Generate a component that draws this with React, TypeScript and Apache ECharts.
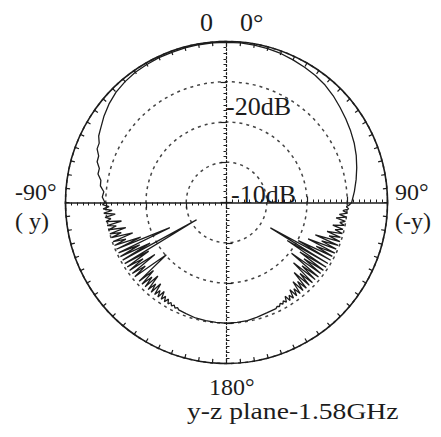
import React, { useEffect, useRef } from "react";
import * as echarts from "echarts";

// Radiation pattern, y-z plane at 1.58 GHz (gain in dB, angle in degrees, 0° at top, clockwise)
const ringValuesDb = [-40, -30, -20, -10, 0];

// Smooth-ish upper half, from -90° (left) over 0° (top) to 90°
const upperAngles = [
  -90, -87.5, -85, -82.5, -80, -77.5, -75, -72.5, -70, -67.5, -65, -62.5, -60,
  -55, -50, -45, -40, -35, -30, -25, -20, -15, -10, -5, 0,
  5, 10, 15, 20, 25, 30, 35, 40, 45, 50, 55, 60, 65, 70, 75, 80, 85, 90,
];
const upperDb = [
  -9.8, -9.1, -9.4, -8.4, -8.3, -7.3, -7.3, -6.3, -6.2, -5.2, -5.1, -4.2, -3.8,
  -2.8, -1.9, -1.2, -0.8, -0.5, -0.4, -0.3, -0.3, -0.2, -0.2, -0.2, -0.2,
  -0.2, -0.3, -0.4, -0.6, -0.9, -1.2, -1.5, -1.9, -2.5, -3.2, -3.8, -4.4, -5.0, -5.7, -6.5, -7.3, -8.1, -8.9,
];

// Lower-left (noisy) part, -180° .. -91°
const lowerLeftSmoothAngles = [-180, -175, -170, -165, -160];
const lowerLeftSmoothDb = [-10.0, -10.1, -10.2, -10.3, -10.6];
const lowerLeftNoisyStart = -156; // 1° steps up to -91
const lowerLeftNoisyDb = [
  -10.8, -11.2, -10.8, -11.4, -10.9, -11.6, -10.9, -12.0, -10.9, -12.2,
  -11.0, -13.0, -11.0, -12.6, -11.0, -14.0, -10.9, -13.2, -10.9, -15.0,
  -10.9, -13.8, -10.8, -15.2, -10.8, -20.2, -16.5, -10.7, -14.4, -10.7,
  -18.0, -10.6, -15.0, -10.6, -17.2, -10.5, -31.4, -10.5, -18.5, -10.4,
  -16.0, -10.4, -24.6, -10.3, -17.0, -10.2, -13.4, -10.2, -15.5, -10.1,
  -12.8, -10.0, -14.2, -9.9, -12.0, -9.8, -13.5, -9.7, -11.0, -9.6,
  -12.2, -9.4, -11.5, -9.3, -10.8, -9.2,
];

// Lower-right (noisy) part, 91° .. 180°
const lowerRightNoisyStart = 91; // 1° steps up to 155
const lowerRightNoisyDb = [
  -9.4, -10.2, -9.6, -11.0, -9.8, -11.8, -10.0, -12.5, -10.1, -11.4,
  -10.2, -13.0, -10.3, -12.2, -10.2, -14.0, -10.4, -13.2, -10.2, -16.5,
  -10.3, -14.5, -10.4, -17.8, -10.3, -15.2, -10.5, -19.8, -10.4, -27.4,
  -10.6, -22.2, -10.5, -18.0, -10.6, -16.2, -10.7, -19.5, -10.6, -15.5,
  -10.8, -17.6, -10.8, -14.6, -10.9, -15.8, -10.9, -13.6, -11.0, -14.3,
  -10.9, -12.8, -11.0, -13.2, -11.0, -12.2, -11.0, -12.5, -11.1, -11.8,
  -11.1, -11.6, -11.0, -11.3, -10.9,
];
const lowerRightSmoothAngles = [160, 165, 170, 175, 180];
const lowerRightSmoothDb = [-10.8, -10.5, -10.2, -10.1, -10.0];

const FONT = "Liberation Serif, Times New Roman, Times, serif";
const INK = "#1c1c1c";

function stepAngles(start: number, count: number): number[] {
  const out: number[] = [];
  for (let i = 0; i < count; i++) out.push(start + i);
  return out;
}

function buildPatternData(): [number, number][] {
  const pts: [number, number][] = [];
  const push = (angles: number[], vals: number[]) => {
    angles.forEach((a, i) => pts.push([vals[i], a]));
  };
  push(lowerLeftSmoothAngles, lowerLeftSmoothDb);
  push(stepAngles(lowerLeftNoisyStart, lowerLeftNoisyDb.length), lowerLeftNoisyDb);
  push(upperAngles, upperDb);
  push(stepAngles(lowerRightNoisyStart, lowerRightNoisyDb.length), lowerRightNoisyDb);
  push(lowerRightSmoothAngles, lowerRightSmoothDb);
  return pts;
}

function label(text: string, x: number, y: number, fontSize: number, scaleX = 1) {
  return {
    type: "text",
    x,
    y,
    scaleX,
    style: {
      text,
      fill: INK,
      fontSize,
      fontFamily: FONT,
      textAlign: "left",
      textVerticalAlign: "middle",
      align: "left",
      verticalAlign: "middle",
    },
  };
}

export default function App() {
  const ref = useRef<HTMLDivElement>(null);

  useEffect(() => {
    if (!ref.current) return;
    const chart = echarts.init(ref.current, undefined, { renderer: "svg" });
    const center = [226.5, 202.5];
    const R = 161;
    const rMin = ringValuesDb[0];
    const rMax = ringValuesDb[ringValuesDb.length - 1];

    const rayAxis = (polarIndex: number, width: number, dashed: boolean, showSplit: boolean) => ({
      polarIndex,
      type: "value",
      min: rMin,
      max: rMax,
      interval: 10,
      axisLine: { show: true, lineStyle: { color: INK, width, type: dashed ? [2, 2] : "solid" } },
      axisTick: { show: true, length: 6, inside: false, lineStyle: { color: INK, width: 1.2 } },
      minorTick: { show: true, splitNumber: 7, length: 3, lineStyle: { color: INK, width: 1 } },
      axisLabel: { show: false },
      splitLine: {
        show: showSplit,
        lineStyle: { color: "#444", width: 1.5, type: [3, 4] },
      },
    });

    const option: any = {
      animation: false,
      backgroundColor: "#ffffff",
      polar: [0, 1, 2, 3].map(() => ({ center, radius: [0, R] })),
      angleAxis: [
        {
          polarIndex: 0,
          type: "value",
          min: -180,
          max: 180,
          interval: 5,
          startAngle: 270,
          clockwise: true,
          axisLine: { show: true, lineStyle: { color: INK, width: 1.6 } },
          axisTick: { show: true, length: 4, inside: true, lineStyle: { color: INK, width: 1.2 } },
          axisLabel: { show: false },
          splitLine: { show: false },
        },
        { polarIndex: 1, type: "value", min: 0, max: 360, startAngle: 90, show: false },
        { polarIndex: 2, type: "value", min: 0, max: 360, startAngle: 0, show: false },
        { polarIndex: 3, type: "value", min: 0, max: 360, startAngle: 180, show: false },
      ],
      radiusAxis: [
        rayAxis(0, 1.2, true, true),
        rayAxis(1, 1.2, true, false),
        rayAxis(2, 1.6, false, false),
        rayAxis(3, 1.6, false, false),
      ],
      series: [
        {
          type: "line",
          coordinateSystem: "polar",
          polarIndex: 0,
          data: buildPatternData(),
          showSymbol: false,
          symbol: "none",
          smooth: false,
          lineStyle: { color: INK, width: 1.3 },
          z: 5,
        },
      ],
      graphic: [
        label("0", 200, 22, 26),
        label("0°", 240, 22, 26),
        label("-90°", 15, 192, 24),
        label("( y)", 15, 221, 24),
        label("90°", 395, 192, 24),
        label("(-y)", 395, 221, 24),
        label("-20dB", 226, 106, 26),
        label("-10dB", 231, 194, 26),
        label("180°", 209, 387, 24),
        label("y-z plane-1.58GHz", 187, 411, 24, 1.15),
      ],
    };
    chart.setOption(option);
    return () => chart.dispose();
  }, []);

  return (
    <div
      ref={ref}
      style={{ position: "absolute", left: 0, top: 0, width: 441, height: 437, background: "#fff" }}
    />
  );
}
